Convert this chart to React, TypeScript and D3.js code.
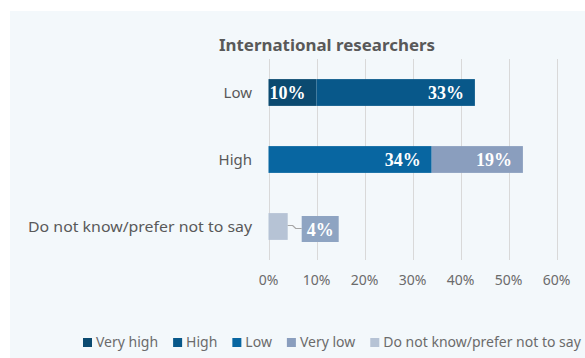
import React, { useEffect, useRef } from "react";
import * as d3 from "d3";

const W = 585;
const H = 358;

const title = "International researchers";
const categories = ["Low", "High", "Do not know/prefer not to say"];
const seriesNames = ["Very high", "High", "Low", "Very low", "Do not know/prefer not to say"];
const seriesColors = ["#0b4a70", "#08588a", "#0866a1", "#8a9ebe", "#b6c3d5"];
const veryHigh = [10, 0, 0];
const high = [33, 0, 0];
const low = [0, 34, 0];
const veryLow = [0, 19, 0];
const dontKnow = [0, 0, 4];
const tickValues = [0, 10, 20, 30, 40, 50, 60];

const seriesValues = [veryHigh, high, low, veryLow, dontKnow];

export default function App() {
  const ref = useRef<SVGSVGElement>(null);

  useEffect(() => {
    const svg = d3.select(ref.current);
    svg.selectAll("*").remove();

    const font = "'Noto Sans', sans-serif";
    svg.append("rect").attr("x", 10).attr("y", 11).attr("width", W - 10).attr("height", H - 11).attr("fill", "#f3f8fb");

    const x = d3.scaleLinear().domain([0, 60]).range([268.5, 556.5]);
    const y = d3.scaleBand<string>().domain(categories).range([59, 260]).paddingInner(0.6).paddingOuter(0.3);

    // title
    svg.append("text")
      .attr("x", 327).attr("y", 51)
      .attr("text-anchor", "middle")
      .attr("font-family", font).attr("font-weight", 700).attr("font-size", 16)
      .attr("fill", "#595959")
      .attr("textLength", 216).attr("lengthAdjust", "spacingAndGlyphs")
      .text(title);

    // gridlines
    svg.append("g").selectAll("line").data(tickValues).join("line")
      .attr("x1", (d) => Math.round(x(d)) + 0.5).attr("x2", (d) => Math.round(x(d)) + 0.5)
      .attr("y1", 59).attr("y2", 260)
      .attr("stroke", "#d9d9d9").attr("stroke-width", 1);

    // tick labels
    svg.append("g").selectAll("text").data(tickValues).join("text")
      .attr("x", (d) => x(d)).attr("y", 285)
      .attr("text-anchor", "middle")
      .attr("font-family", font).attr("font-size", 14).attr("fill", "#6b6b6b")
      .text((d) => d + "%");

    // category labels
    svg.append("g").selectAll("text").data(categories).join("text")
      .attr("x", 252).attr("y", (d) => (y(d) as number) + y.bandwidth() / 2 + 5)
      .attr("text-anchor", "end")
      .attr("font-family", font).attr("font-size", 15).attr("fill", "#595959")
      .each(function (d) {
        if (d.length > 10) d3.select(this).attr("textLength", 224).attr("lengthAdjust", "spacingAndGlyphs");
      })
      .text((d) => d);

    // stacked bars
    const rows = categories.map((c, i) => {
      const r: any = { cat: c };
      seriesNames.forEach((s, j) => (r[s] = seriesValues[j][i]));
      return r;
    });
    const stack = d3.stack<any>().keys(seriesNames)(rows);
    const gBars = svg.append("g");
    stack.forEach((layer, j) => {
      layer.forEach((seg, i) => {
        const v = seg[1] - seg[0];
        if (v <= 0) return;
        const cat = categories[i];
        const y0 = y(cat) as number;
        gBars.append("rect")
          .attr("x", x(seg[0])).attr("y", y0)
          .attr("width", x(seg[1]) - x(seg[0])).attr("height", y.bandwidth())
          .attr("fill", seriesColors[j]);
        const cy = y0 + y.bandwidth() / 2;
        if (j < 4) {
          gBars.append("text")
            .attr("x", x(seg[1]) - 11).attr("y", cy + 6.5)
            .attr("text-anchor", "end")
            .attr("font-family", "'Liberation Serif', serif").attr("font-weight", 700).attr("font-size", 18)
            .attr("fill", "#ffffff")
            .text(v + "%");
        } else {
          const bx = x(seg[1]) + 14;
          const by = cy - 10.5;
          const bw = 37;
          const bh = 26;
          gBars.append("path")
            .attr("d", `M${x(seg[1])},${cy - 1} L${x(seg[1]) + 5},${cy - 1} L${x(seg[1]) + 8},${cy + 2} L${bx},${cy + 2}`)
            .attr("fill", "none").attr("stroke", "#a6a6a6").attr("stroke-width", 1.2);
          gBars.append("rect").attr("x", bx).attr("y", by).attr("width", bw).attr("height", bh).attr("fill", "#8ea4c2");
          gBars.append("text")
            .attr("x", bx + bw / 2).attr("y", by + bh / 2 + 6.5)
            .attr("text-anchor", "middle")
            .attr("font-family", "'Liberation Serif', serif").attr("font-weight", 700).attr("font-size", 18)
            .attr("fill", "#ffffff")
            .text(v + "%");
        }
      });
    });

    // legend
    const gLeg = svg.append("g");
    let lx = 83;
    seriesNames.forEach((s, j) => {
      gLeg.append("rect").attr("x", lx).attr("y", 338).attr("width", 9).attr("height", 9).attr("fill", seriesColors[j]);
      const t = gLeg.append("text")
        .attr("x", lx + 13).attr("y", 347)
        .attr("font-family", font).attr("font-size", 14).attr("fill", "#6b6b6b")
        .text(s);
      const w = (t.node() as SVGTextElement).getComputedTextLength();
      lx = lx + 13 + w + 15;
    });
  }, []);

  return (
    <svg
      ref={ref}
      width={W}
      height={H}
      style={{ position: "absolute", left: 0, top: 0, display: "block" }}
    />
  );
}
